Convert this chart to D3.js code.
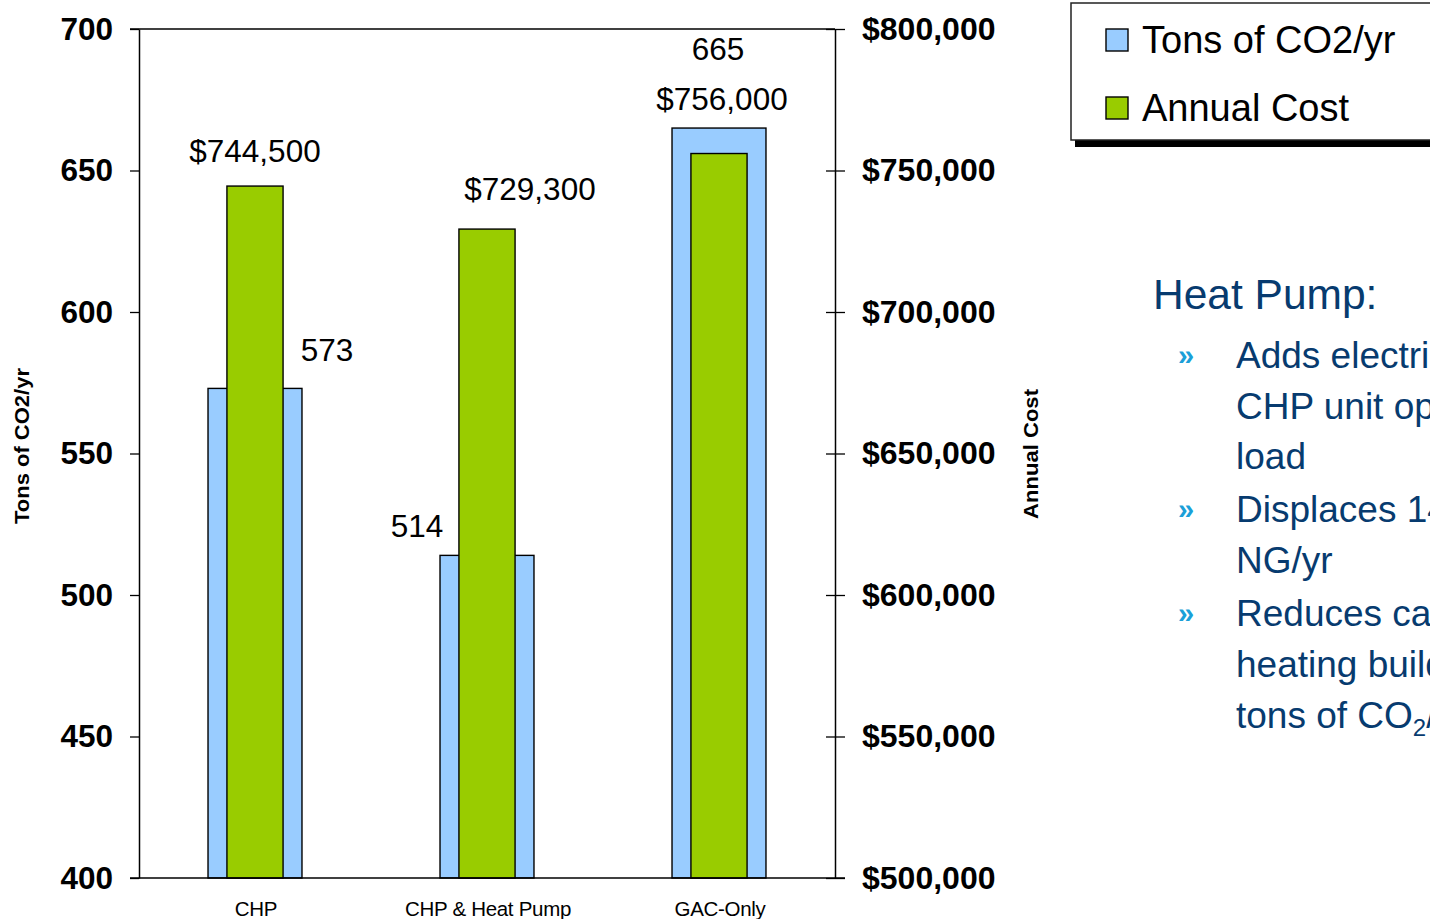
<!DOCTYPE html>
<html>
<head>
<meta charset="utf-8">
<script src="https://cdn.jsdelivr.net/npm/d3@7"></script>
<style>
  html, body { margin: 0; padding: 0; background: #fff; overflow: hidden; }
  svg { display: block; font-family: Arial, "Liberation Sans", Helvetica, sans-serif; }
</style>
</head>
<body>
<svg id="chart" width="1430" height="919"></svg>
<script>
// Scenarios compared
const categories = ["CHP", "CHP & Heat Pump", "GAC-Only"];
// Annual CO2 emissions (tons/yr)
const co2Tons = [573, 514, 665];
// Annual operating cost (USD)
const annualCost = [744500, 729300, 756000];
// Axis ticks
const co2Ticks = [400, 450, 500, 550, 600, 650, 700];
const costTicks = [500000, 550000, 600000, 650000, 700000, 750000, 800000];
// Side notes
const noteTitle = "Heat Pump:";
const noteBullets = [
  ["Adds electric", "CHP unit ope", "load"],
  ["Displaces 14", "NG/yr"],
  ["Reduces car", "heating build", "tons of CO|2|/yr"]
];

// Layout
const plot = { left: 139, right: 835, top: 29, bottom: 878 };
const colors = { co2: "#99ccff", cost: "#99cc00", ink: "#000", note: "#073b6f", bullet: "#1b9fd8" };
// label offsets relative to each bar top / centre (dx, dy)
const co2LabelNudge = [[72, -27], [-70, -18], [-1, -68]];
const costLabelNudge = [[0, -24], [43, -29], [3, -44]];

const svg = d3.select("#chart");

const x = d3.scaleBand().domain(categories).range([plot.left, plot.right]).padding(0);
const yL = d3.scaleLinear().domain([400, 700]).range([plot.bottom, plot.top]);
const yR = d3.scaleLinear().domain([500000, 800000]).range([plot.bottom, plot.top]);
const bw = x.bandwidth();
const co2W = bw * 0.405, costW = bw * 0.242;
const money = v => "$" + d3.format(",")(v);

// top frame line
svg.append("line").attr("x1", 130).attr("x2", plot.right).attr("y1", plot.top).attr("y2", plot.top)
  .attr("stroke", colors.ink).attr("stroke-width", 1.5);

// CO2 bars (wide, behind)
svg.append("g").selectAll("rect").data(categories).join("rect")
  .attr("x", (d) => x(d) + bw / 2 - co2W / 2)
  .attr("y", (d, i) => yL(co2Tons[i]))
  .attr("width", co2W)
  .attr("height", (d, i) => yL(400) - yL(co2Tons[i]))
  .attr("fill", colors.co2).attr("stroke", colors.ink).attr("stroke-width", 1.4);

// cost bars (narrow, in front)
svg.append("g").selectAll("rect").data(categories).join("rect")
  .attr("x", (d) => x(d) + bw / 2 - costW / 2)
  .attr("y", (d, i) => yR(annualCost[i]))
  .attr("width", costW)
  .attr("height", (d, i) => yR(500000) - yR(annualCost[i]))
  .attr("fill", colors.cost).attr("stroke", colors.ink).attr("stroke-width", 1.4);

// Left axis
const gL = svg.append("g").attr("transform", `translate(${plot.left},0)`)
  .call(d3.axisLeft(yL).tickValues(co2Ticks).tickSize(9).tickSizeOuter(0).tickPadding(17));
gL.select(".domain").attr("stroke-width", 1.5);
gL.selectAll(".tick line").attr("stroke-width", 1.3);
gL.selectAll(".tick text").attr("font-size", 31.5).attr("font-weight", "bold").attr("fill", colors.ink)
  .attr("font-family", "Arial, 'Liberation Sans', sans-serif");

// Right axis
const gR = svg.append("g").attr("transform", `translate(${plot.right},0)`)
  .call(d3.axisRight(yR).tickValues(costTicks).tickSize(10).tickSizeOuter(0).tickPadding(17).tickFormat(money));
gR.select(".domain").attr("stroke-width", 1.5);
gR.selectAll(".tick line").attr("x1", -9).attr("stroke-width", 1.3);
gR.selectAll(".tick text").attr("font-size", 32).attr("font-weight", "bold").attr("fill", colors.ink)
  .attr("font-family", "Arial, 'Liberation Sans', sans-serif");

// bottom axis line
svg.append("line").attr("x1", 130).attr("x2", 845).attr("y1", plot.bottom).attr("y2", plot.bottom)
  .attr("stroke", colors.ink).attr("stroke-width", 1.5);

// Category labels
svg.append("g").selectAll("text").data(categories).join("text")
  .attr("x", d => x(d) + bw / 2 + 1)
  .attr("y", 916)
  .attr("text-anchor", "middle")
  .attr("font-size", 20.5)
  .attr("letter-spacing", -0.3)
  .attr("fill", colors.ink)
  .text(d => d);

// Value labels
svg.append("g").selectAll("text").data(categories).join("text")
  .attr("x", (d, i) => x(d) + bw / 2 + co2LabelNudge[i][0])
  .attr("y", (d, i) => yL(co2Tons[i]) + co2LabelNudge[i][1])
  .attr("text-anchor", "middle").attr("font-size", 31.5).attr("fill", colors.ink)
  .text((d, i) => co2Tons[i]);
svg.append("g").selectAll("text").data(categories).join("text")
  .attr("x", (d, i) => x(d) + bw / 2 + costLabelNudge[i][0])
  .attr("y", (d, i) => yR(annualCost[i]) + costLabelNudge[i][1])
  .attr("text-anchor", "middle").attr("font-size", 31.5).attr("fill", colors.ink)
  .text((d, i) => money(annualCost[i]));

// Axis titles
svg.append("text").attr("transform", "translate(29,446) rotate(-90)")
  .attr("text-anchor", "middle").attr("font-size", 20).attr("font-weight", "bold")
  .attr("textLength", 156).attr("lengthAdjust", "spacingAndGlyphs")
  .text("Tons of CO2/yr");
svg.append("text").attr("transform", "translate(1038,454) rotate(-90)")
  .attr("text-anchor", "middle").attr("font-size", 20).attr("font-weight", "bold")
  .attr("textLength", 130).attr("lengthAdjust", "spacingAndGlyphs")
  .text("Annual Cost");

// Legend with drop shadow
const legend = svg.append("g");
legend.append("rect").attr("x", 1075).attr("y", 9).attr("width", 400).attr("height", 138).attr("fill", "#000");
legend.append("rect").attr("x", 1071).attr("y", 3).attr("width", 400).attr("height", 137)
  .attr("fill", "#fff").attr("stroke", "#222").attr("stroke-width", 1.5);
const legendItems = [
  { label: "Tons of CO2/yr", color: colors.co2 },
  { label: "Annual Cost", color: colors.cost }
];
legendItems.forEach((it, i) => {
  const by = 53 + i * 68;
  legend.append("rect").attr("x", 1106).attr("y", by - 24).attr("width", 22).attr("height", 22)
    .attr("fill", it.color).attr("stroke", "#000").attr("stroke-width", 1.4);
  legend.append("text").attr("x", 1142).attr("y", by).attr("font-size", 38).attr("fill", "#000").text(it.label);
});

// Side notes
const notes = svg.append("g");
notes.append("text").attr("x", 1153).attr("y", 309).attr("font-size", 42.5).attr("fill", colors.note).text(noteTitle);
let lineY = 368;
noteBullets.forEach((lines) => {
  notes.append("text").attr("x", 1178).attr("y", lineY - 3).attr("font-size", 29).attr("font-weight", "bold")
    .attr("fill", colors.bullet).text("\u00bb");
  lines.forEach((ln, li) => {
    const t = notes.append("text").attr("x", 1236).attr("y", lineY).attr("font-size", 37).attr("fill", colors.note);
    const parts = ln.split("|");
    parts.forEach((p, pi) => {
      const ts = t.append("tspan").text(p);
      if (pi % 2 === 1) ts.attr("font-size", 24).attr("dy", 8);
      else if (pi > 0) ts.attr("dy", -8);
    });
    if (li < lines.length - 1) lineY += 50.7;
  });
  lineY += 53;
});
</script>
</body>
</html>
